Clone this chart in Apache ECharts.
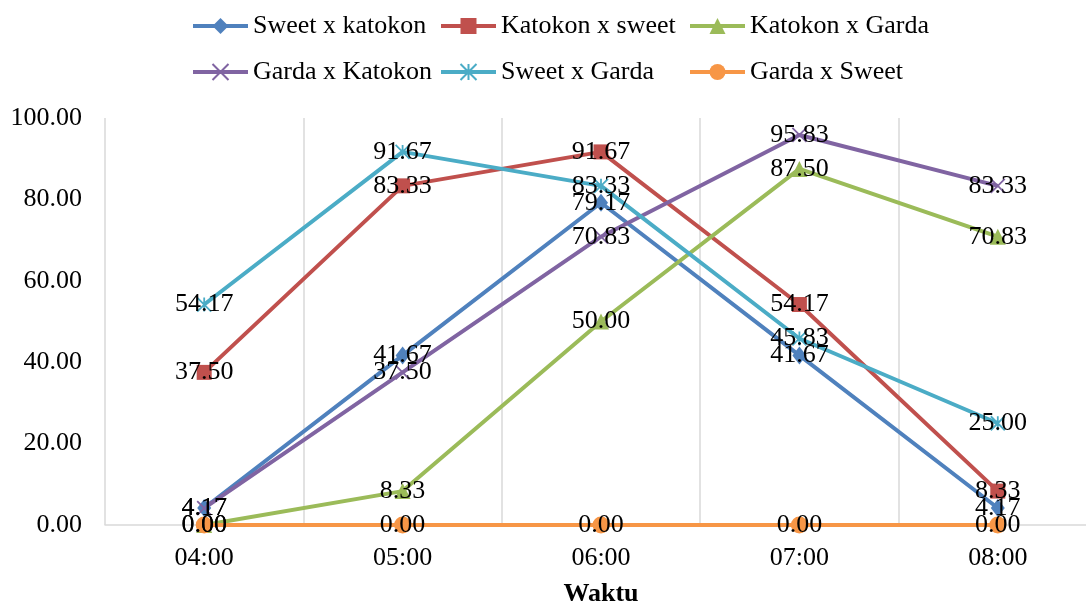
<!DOCTYPE html>
<html>
<head>
<meta charset="utf-8">
<script src="https://cdn.jsdelivr.net/npm/echarts@6/dist/echarts.min.js"></script>
<style>html,body{margin:0;padding:0;background:#fff}#c{width:1086px;height:607px}</style>
</head>
<body>
<div id="c"></div>
<script>
var categories = ['04:00', '05:00', '06:00', '07:00', '08:00'];
var seriesNames = ['Sweet x katokon', 'Katokon x sweet', 'Katokon x Garda', 'Garda x Katokon', 'Sweet x Garda', 'Garda x Sweet'];
var sweetKatokon = [4.17, 41.67, 79.17, 41.67, 4.17];
var katokonSweet = [37.50, 83.33, 91.67, 54.17, 8.33];
var katokonGarda = [0.00, 8.33, 50.00, 87.50, 70.83];
var gardaKatokon = [4.17, 37.50, 70.83, 95.83, 83.33];
var sweetGarda = [54.17, 91.67, 83.33, 45.83, 25.00];
var gardaSweet = [0.00, 0.00, 0.00, 0.00, 0.00];
var yTicks = [0, 20, 40, 60, 80, 100];
var xTitle = 'Waktu';

var FONT = '"Liberation Serif", "Times New Roman", serif';
var colors = ['#4F81BD', '#C0504D', '#9BBB59', '#8064A2', '#4BACC6', '#F79646'];
var symbols = [
  'diamond', 'rect', 'triangle',
  'path://M0,0L10,10M10,0L0,10',
  'path://M5,0L5,10M0,0L10,10M10,0L0,10',
  'circle'
];
var sizes = [[14, 18], 15, 16, 14, 14, 17];
var values = [sweetKatokon, katokonSweet, katokonGarda, gardaKatokon, sweetGarda, gardaSweet];

var series = values.map(function (d, i) {
  var isPath = i === 3 || i === 4;
  return {
    name: seriesNames[i],
    type: 'line',
    data: d,
    symbol: symbols[i],
    symbolSize: sizes[i],
    showAllSymbol: true,
    lineStyle: { color: colors[i], width: 4 },
    itemStyle: isPath ? { color: colors[i], borderColor: colors[i], borderWidth: 1.8 } : { color: colors[i] },
    label: {
      show: true,
      position: 'inside',
      color: '#000',
      fontFamily: FONT,
      fontSize: 26,
      formatter: function (p) { return p.value.toFixed(2); }
    },
    emphasis: { disabled: true },
    animation: false
  };
});

// legend laid out as a 3-column grid, like the reference
var colLeft = [186, 434, 683];
var rowTop = [8, 54];
var legends = seriesNames.map(function (n, i) {
  return {
    left: colLeft[i % 3],
    top: rowTop[Math.floor(i / 3)],
    data: [n],
    itemWidth: 55,
    itemHeight: 20,
    itemGap: 0,
    lineStyle: { width: 4 },
    textStyle: { color: '#000', fontFamily: FONT, fontSize: 26 }
  };
});

var chart = echarts.init(document.getElementById('c'), null, { renderer: 'canvas' });
chart.setOption({
  animation: false,
  legend: legends,
  grid: { left: 105, right: -11, top: 118, bottom: 82, containLabel: false, outerBoundsMode: 'none' },
  xAxis: {
    type: 'category',
    data: categories,
    boundaryGap: true,
    name: xTitle,
    nameLocation: 'middle',
    nameGap: 56,
    nameTextStyle: { color: '#000', fontFamily: FONT, fontSize: 26, fontWeight: 'bold' },
    axisLine: { show: true, lineStyle: { color: '#D9D9D9', width: 1.5 } },
    axisTick: { show: false },
    axisLabel: { color: '#000', fontFamily: FONT, fontSize: 26, margin: 20 },
    splitLine: { show: true, lineStyle: { color: '#D9D9D9', width: 1.5 } }
  },
  yAxis: {
    type: 'value',
    min: yTicks[0],
    max: yTicks[yTicks.length - 1],
    interval: yTicks[1] - yTicks[0],
    axisLine: { show: false },
    axisTick: { show: false },
    splitLine: { show: false },
    axisLabel: {
      color: '#000', fontFamily: FONT, fontSize: 26, margin: 23,
      formatter: function (v) { return v.toFixed(2); }
    }
  },
  series: series
});
</script>
</body>
</html>
